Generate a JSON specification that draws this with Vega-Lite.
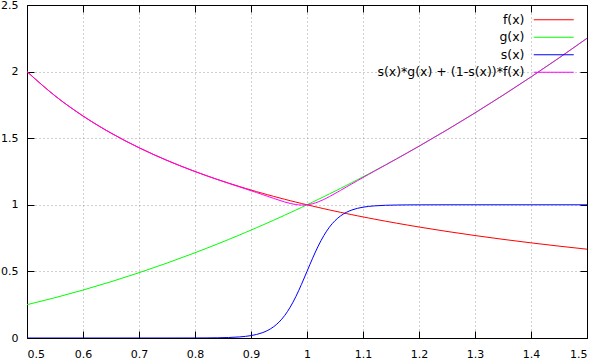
{
  "$schema": "https://vega.github.io/schema/vega-lite/v6.json",
  "width": 560,
  "height": 333,
  "autosize": {"type": "none"},
  "padding": {"left": 27, "top": 5, "right": 11, "bottom": 22},
  "background": "white",
  "config": {
    "view": {"stroke": null},
    "font": "DejaVu Sans",
    "axis": {
      "labelFont": "DejaVu Sans",
      "labelFontSize": 11,
      "labelColor": "black",
      "domainColor": "black",
      "domainWidth": 1,
      "tickColor": "black",
      "tickSize": -7,
      "tickWidth": 1,
      "title": null,
      "gridColor": "#a0a0a0",
      "gridDash": [1, 3],
      "gridWidth": 1,
      "format": "~g"
    }
  },
  "data": {
    "values": [
      {"x": 0.5, "f": 2.0, "g": 0.25, "s": 0.0, "b": 2.0},
      {"x": 0.55, "f": 1.81818, "g": 0.3025, "s": 0.0, "b": 1.81818},
      {"x": 0.6, "f": 1.66667, "g": 0.36, "s": 0.0000001, "b": 1.66667},
      {"x": 0.65, "f": 1.53846, "g": 0.4225, "s": 0.0000008, "b": 1.53846},
      {"x": 0.7, "f": 1.42857, "g": 0.49, "s": 0.0000061, "b": 1.42856},
      {"x": 0.75, "f": 1.33333, "g": 0.5625, "s": 0.0000454, "b": 1.3333},
      {"x": 0.8, "f": 1.25, "g": 0.64, "s": 0.000335, "b": 1.2498},
      {"x": 0.82, "f": 1.21951, "g": 0.6724, "s": 0.000746, "b": 1.2191},
      {"x": 0.84, "f": 1.19048, "g": 0.7056, "s": 0.001659, "b": 1.18968},
      {"x": 0.86, "f": 1.16279, "g": 0.7396, "s": 0.003685, "b": 1.16123},
      {"x": 0.88, "f": 1.13636, "g": 0.7744, "s": 0.008163, "b": 1.13341},
      {"x": 0.89, "f": 1.1236, "g": 0.7921, "s": 0.012128, "b": 1.11958},
      {"x": 0.9, "f": 1.11111, "g": 0.81, "s": 0.017986, "b": 1.10569},
      {"x": 0.91, "f": 1.0989, "g": 0.8281, "s": 0.026597, "b": 1.0917},
      {"x": 0.92, "f": 1.08696, "g": 0.8464, "s": 0.039166, "b": 1.07754},
      {"x": 0.93, "f": 1.07527, "g": 0.8649, "s": 0.057324, "b": 1.06321},
      {"x": 0.94, "f": 1.06383, "g": 0.8836, "s": 0.083173, "b": 1.04884},
      {"x": 0.95, "f": 1.05263, "g": 0.9025, "s": 0.119203, "b": 1.03473},
      {"x": 0.96, "f": 1.04167, "g": 0.9216, "s": 0.167982, "b": 1.0215},
      {"x": 0.97, "f": 1.03093, "g": 0.9409, "s": 0.231475, "b": 1.01009},
      {"x": 0.98, "f": 1.02041, "g": 0.9604, "s": 0.310026, "b": 1.00181},
      {"x": 0.99, "f": 1.0101, "g": 0.9801, "s": 0.401312, "b": 0.99806},
      {"x": 1.0, "f": 1.0, "g": 1.0, "s": 0.5, "b": 1.0},
      {"x": 1.01, "f": 0.990099, "g": 1.0201, "s": 0.598688, "b": 1.00806},
      {"x": 1.02, "f": 0.980392, "g": 1.0404, "s": 0.689974, "b": 1.0218},
      {"x": 1.03, "f": 0.970874, "g": 1.0609, "s": 0.768525, "b": 1.04006},
      {"x": 1.04, "f": 0.961538, "g": 1.0816, "s": 0.832018, "b": 1.06143},
      {"x": 1.05, "f": 0.952381, "g": 1.1025, "s": 0.880797, "b": 1.08461},
      {"x": 1.06, "f": 0.943396, "g": 1.1236, "s": 0.916827, "b": 1.10861},
      {"x": 1.07, "f": 0.934579, "g": 1.1449, "s": 0.942676, "b": 1.13284},
      {"x": 1.08, "f": 0.925926, "g": 1.1664, "s": 0.960834, "b": 1.15698},
      {"x": 1.09, "f": 0.917431, "g": 1.1881, "s": 0.973403, "b": 1.1809},
      {"x": 1.1, "f": 0.909091, "g": 1.21, "s": 0.982014, "b": 1.20459},
      {"x": 1.11, "f": 0.900901, "g": 1.2321, "s": 0.987872, "b": 1.22808},
      {"x": 1.12, "f": 0.892857, "g": 1.2544, "s": 0.991837, "b": 1.25145},
      {"x": 1.14, "f": 0.877193, "g": 1.2996, "s": 0.996315, "b": 1.29804},
      {"x": 1.16, "f": 0.862069, "g": 1.3456, "s": 0.998341, "b": 1.3448},
      {"x": 1.18, "f": 0.847458, "g": 1.3924, "s": 0.999254, "b": 1.39199},
      {"x": 1.2, "f": 0.833333, "g": 1.44, "s": 0.999665, "b": 1.4398},
      {"x": 1.25, "f": 0.8, "g": 1.5625, "s": 0.999955, "b": 1.56247},
      {"x": 1.3, "f": 0.769231, "g": 1.69, "s": 0.999994, "b": 1.68999},
      {"x": 1.35, "f": 0.740741, "g": 1.8225, "s": 0.999999, "b": 1.8225},
      {"x": 1.4, "f": 0.714286, "g": 1.96, "s": 1.0, "b": 1.96},
      {"x": 1.45, "f": 0.689655, "g": 2.1025, "s": 1.0, "b": 2.1025},
      {"x": 1.5, "f": 0.666667, "g": 2.25, "s": 1.0, "b": 2.25}
    ]
  },
  "transform": [
    {"fold": ["f", "g", "s", "b"], "as": ["key", "value"]},
    {"lookup": "key", "from": {"data": {"values": [
      {"key": "f", "name": "f(x)", "ord": 0},
      {"key": "g", "name": "g(x)", "ord": 1},
      {"key": "s", "name": "s(x)", "ord": 2},
      {"key": "b", "name": "s(x)*g(x) + (1-s(x))*f(x)", "ord": 3}
    ]}, "key": "key", "fields": ["name", "ord"]}}
  ],
  "resolve": {"axis": {"x": "independent", "y": "independent"}},
  "layer": [
    {
      "mark": {"type": "line", "strokeWidth": 1, "interpolate": "monotone", "clip": true},
      "encoding": {
        "x": {"field": "x", "type": "quantitative", "scale": {"domain": [0.5, 1.5], "nice": false, "zero": false},
              "axis": {"orient": "bottom", "values": [0.5, 0.6, 0.7, 0.8, 0.9, 1, 1.1, 1.2, 1.3, 1.4, 1.5], "grid": true, "labelPadding": 17}},
        "y": {"field": "value", "type": "quantitative", "scale": {"domain": [0, 2.5], "nice": false},
              "axis": {"orient": "left", "values": [0, 0.5, 1, 1.5, 2, 2.5], "grid": true, "labelPadding": 16}},
        "color": {"field": "name", "type": "nominal",
                  "scale": {"domain": ["f(x)", "g(x)", "s(x)", "s(x)*g(x) + (1-s(x))*f(x)"], "range": ["#ff0000", "#00ff00", "#0000ff", "#ff00ff"]},
                  "legend": {"title": null, "orient": "none", "legendX": 338, "legendY": 8.5, "padding": 0,
                             "symbolType": "M-5,0H5", "symbolSize": 64, "symbolStrokeWidth": 1,
                             "symbolOffset": 182.5,
                             "labelAlign": "right", "labelOffset": -35.5, "labelFont": "DejaVu Sans", "labelFontSize": 12.5, "labelColor": "black",
                             "rowPadding": 4.5, "labelLimit": 400}},
        "order": {"field": "x", "type": "quantitative"}
      }
    },
    {
      "mark": {"type": "line", "strokeOpacity": 0},
      "encoding": {
        "x": {"field": "x", "type": "quantitative", "scale": {"domain": [0.5, 1.5], "nice": false, "zero": false},
              "axis": {"orient": "top", "values": [0.5, 0.6, 0.7, 0.8, 0.9, 1, 1.1, 1.2, 1.3, 1.4, 1.5], "labels": false, "grid": false}},
        "y": {"field": "value", "type": "quantitative", "scale": {"domain": [0, 2.5], "nice": false},
              "axis": {"orient": "right", "values": [0, 0.5, 1, 1.5, 2, 2.5], "labels": false, "grid": false}},
        "detail": {"field": "name"}
      }
    }
  ]
}
